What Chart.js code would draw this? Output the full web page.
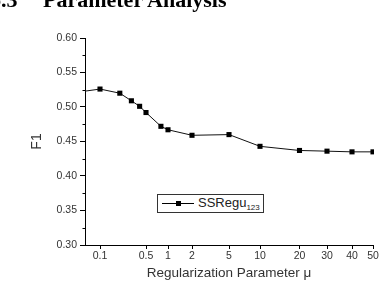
<!DOCTYPE html>
<html>
<head>
<meta charset="utf-8">
<script src="https://cdn.jsdelivr.net/npm/chart.js@4"></script>
<style>
  html, body { margin: 0; padding: 0; background: #fff; }
  #wrap { position: relative; width: 383px; height: 288px; overflow: hidden; }
  #c { position: absolute; left: 0; top: 0; }
  .head { position: absolute; top: -11px; font: bold 22px/22px "Liberation Serif", "Times New Roman", serif; color: #000; white-space: nowrap; }
  #legend { position: absolute; left: 157px; top: 194px; width: 105px; height: 17px; border: 1px solid #333; background: #fff;
            font: 13px "Liberation Sans", Arial, sans-serif; color: #222; }
  #legend .ln { position: absolute; left: 4px; top: 8px; width: 32px; height: 1px; background: #000; }
  #legend .mk { position: absolute; left: 18px; top: 6px; width: 5px; height: 5px; background: #000; }
  #legend .tx { position: absolute; left: 40px; top: 0px; white-space: nowrap; }
  #legend sub { font-size: 8px; vertical-align: -3px; }
</style>
</head>
<body>
<div id="wrap">
  <canvas id="c" width="383" height="288"></canvas>
  <div class="head" style="left:-10px">6.3</div>
  <div class="head" style="left:43px">Parameter Analysis</div>
  <div id="legend"><div class="ln"></div><div class="mk"></div><div class="tx">SSRegu<sub>123</sub></div></div>
</div>
<script>
var muValues = [0.05, 0.1, 0.2, 0.3, 0.4, 0.5, 0.8, 1, 2, 5, 10, 20, 30, 40, 50];
var f1Values = [0.522, 0.526, 0.520, 0.509, 0.501, 0.492, 0.472, 0.467, 0.459, 0.460, 0.443, 0.437, 0.436, 0.435, 0.435];

var xTickVals = [0.1, 0.5, 1, 2, 5, 10, 20, 30, 40, 50];
var xTickLabels = ['0.1', '0.5', '1', '2', '5', '10', '20', '30', '40', '50'];
var yTickVals = [0.30, 0.35, 0.40, 0.45, 0.50, 0.55, 0.60];

// the original axis is a broken log axis: each tick gap gets its own width
var xAnchorPos = [15, 61, 83, 107, 144, 175, 214.5, 242, 267, 288];

function warp(v) {
    var i = 0;
    while (i < xTickVals.length - 2 && v > xTickVals[i + 1]) i++;
    var a = xTickVals[i], b = xTickVals[i + 1];
    var t = Math.log(v / a) / Math.log(b / a);
    return xAnchorPos[i] + t * (xAnchorPos[i + 1] - xAnchorPos[i]);
}

var points = muValues.map(function (m, i) { return { x: warp(m), y: f1Values[i] }; });

var minorTicks = {
    id: 'minorTicks',
    afterDraw: function (chart) {
        var ctx = chart.ctx, y = chart.scales.y, x0 = chart.chartArea.left;
        ctx.save();
        ctx.strokeStyle = '#000';
        ctx.lineWidth = 1;
        for (var i = 0; i < yTickVals.length - 1; i++) {
            var py = Math.round(y.getPixelForValue((yTickVals[i] + yTickVals[i + 1]) / 2)) + 0.5;
            ctx.beginPath();
            ctx.moveTo(x0 - 2.5, py);
            ctx.lineTo(x0, py);
            ctx.stroke();
        }
        ctx.restore();
    }
};

var tickFont = { family: '"Liberation Sans", Arial, sans-serif', size: 10.5 };

new Chart(document.getElementById('c').getContext('2d'), {
    type: 'line',
    data: {
        datasets: [{
            label: 'SSRegu123',
            data: points,
            borderColor: '#111',
            borderWidth: 1,
            backgroundColor: '#000',
            pointStyle: 'rect',
            pointRadius: 3.6,
            pointBorderWidth: 0,
            pointBackgroundColor: '#000',
            tension: 0,
            clip: { left: 0, top: 6, right: 1, bottom: 6 }
        }]
    },
    options: {
        responsive: false,
        animation: false,
        events: [],
        layout: { padding: { top: 38, right: 10, left: 0, bottom: 0 } },
        plugins: { legend: { display: false }, tooltip: { enabled: false } },
        scales: {
            x: {
                type: 'linear',
                min: 0,
                max: 288,
                afterBuildTicks: function (s) { s.ticks = xTickVals.map(function (v) { return { value: warp(v) }; }); },
                afterFit: function (s) { s.height = 43; },
                ticks: {
                    autoSkip: false, maxRotation: 0, padding: 1, color: '#333', font: tickFont,
                    callback: function (v, i) { return xTickLabels[i]; }
                },
                grid: { drawOnChartArea: false, tickLength: 4, color: '#000' },
                border: { color: '#000', width: 1 },
                title: {
                    display: true, text: 'Regularization Parameter \u03bc', color: '#333',
                    font: { family: '"Liberation Sans", Arial, sans-serif', size: 13.5 },
                    padding: { top: 0, bottom: 7 }
                }
            },
            y: {
                min: 0.30,
                max: 0.60,
                afterBuildTicks: function (s) { s.ticks = yTickVals.map(function (v) { return { value: v }; }); },
                afterFit: function (s) { s.width = 85; },
                ticks: {
                    padding: 3, color: '#333', font: tickFont,
                    callback: function (v) { return v.toFixed(2); }
                },
                grid: { drawOnChartArea: false, tickLength: 5, color: '#000' },
                border: { color: '#000', width: 1 },
                title: {
                    display: true, text: 'F1', color: '#333',
                    font: { family: '"Liberation Sans", Arial, sans-serif', size: 14 },
                    padding: { top: 29, bottom: 0 }
                }
            }
        }
    },
    plugins: [minorTicks]
});
</script>
</body>
</html>
